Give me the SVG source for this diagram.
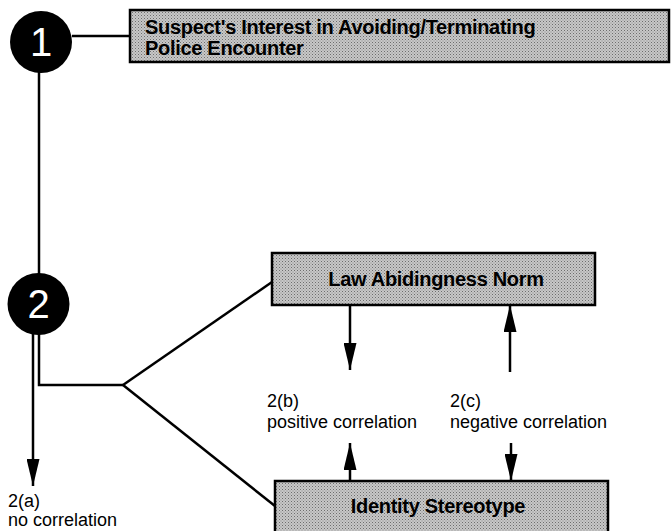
<svg xmlns="http://www.w3.org/2000/svg" width="671" height="531" viewBox="0 0 671 531">
<style>
.bg{fill:#ffffff}
.box{fill:url(#ht);stroke:#000;stroke-width:2.5}
.disc{fill:#000}
.num{font-family:"Liberation Sans",Arial,sans-serif;font-size:40px;fill:#fff;text-anchor:middle}
.bt{font-family:"Liberation Sans",Arial,sans-serif;font-size:20px;font-weight:bold;fill:#000;letter-spacing:-0.3px}
.lb{font-family:"Liberation Sans",Arial,sans-serif;font-size:18px;fill:#000}
.ln{fill:none;stroke:#000;stroke-width:2.5}
</style>
<defs>
<pattern id="ht" width="3" height="3" patternUnits="userSpaceOnUse">
<rect width="3" height="3" fill="#c8c8c8"/>
<rect width="1" height="1" fill="#6e6e6e"/>
<rect x="1.5" y="1.5" width="1" height="1" fill="#8a8a8a"/>
</pattern>
<marker id="ah" viewBox="0 0 27 13" markerWidth="27" markerHeight="13" refX="27" refY="6.5" orient="auto" markerUnits="userSpaceOnUse">
<path d="M0,0 L27,6.5 L0,13 z" fill="#000"/>
</marker>
</defs>
<rect class="bg" x="0" y="0" width="671" height="531"/>
<g id="connectors">
<line class="ln" x1="72" y1="36" x2="130" y2="36"/>
<line class="ln" x1="39" y1="72" x2="39" y2="275"/>
<line class="ln" x1="33" y1="333" x2="33" y2="486" marker-end="url(#ah)"/>
<polyline class="ln" points="39,333 39,385 123,385"/>
<line class="ln" x1="123" y1="385" x2="272" y2="282"/>
<line class="ln" x1="123" y1="385" x2="275" y2="506"/>
<line class="ln" x1="350" y1="305" x2="350" y2="370" marker-end="url(#ah)"/>
<line class="ln" x1="510" y1="372" x2="510" y2="305" marker-end="url(#ah)"/>
<line class="ln" x1="350" y1="481" x2="350" y2="443" marker-end="url(#ah)"/>
<line class="ln" x1="511" y1="443" x2="511" y2="481" marker-end="url(#ah)"/>
</g>
<g id="step1">
<ellipse class="disc" cx="41" cy="42" rx="31" ry="31"/>
<text class="num" x="41" y="56">1</text>
</g>
<g id="step2">
<ellipse class="disc" cx="38.5" cy="304" rx="31" ry="31"/>
<text class="num" x="38.5" y="318">2</text>
</g>
<g id="interest">
<rect class="box" x="130" y="10" width="539" height="52"/>
<text class="bt" x="145" y="34">Suspect's Interest in Avoiding/Terminating</text>
<text class="bt" x="145" y="55">Police Encounter</text>
</g>
<g id="law">
<rect class="box" x="272" y="253" width="323" height="52"/>
<text class="bt" x="436" y="286" text-anchor="middle">Law Abidingness Norm</text>
</g>
<g id="identity">
<rect class="box" x="275" y="481" width="333" height="54"/>
<text class="bt" x="438" y="513" text-anchor="middle">Identity Stereotype</text>
</g>
<g id="label2a">
<text class="lb" x="8" y="507">2(a)</text>
<text class="lb" x="8" y="526">no correlation</text>
</g>
<g id="label2b">
<text class="lb" x="267" y="407">2(b)</text>
<text class="lb" x="267" y="428">positive correlation</text>
</g>
<g id="label2c">
<text class="lb" x="450" y="407">2(c)</text>
<text class="lb" x="450" y="428">negative correlation</text>
</g>
</svg>
